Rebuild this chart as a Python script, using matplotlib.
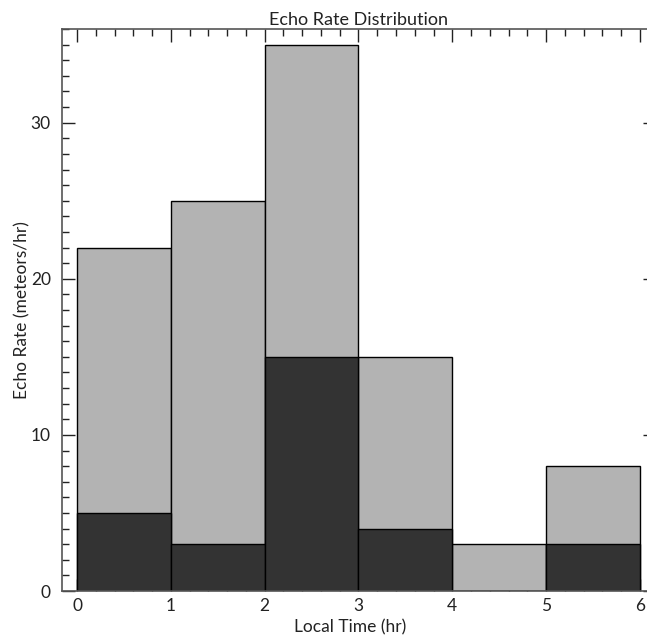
import matplotlib
matplotlib.use("Agg")
import matplotlib.pyplot as plt
from matplotlib.ticker import MultipleLocator

# hourly bins of local time
hour_edges = [0, 1, 2, 3, 4, 5]
total_rate = [22, 25, 35, 15, 3, 8]
sub_rate = [5, 3, 15, 4, 0, 3]

plt.rcParams['font.family'] = ['Lato', 'DejaVu Sans']

fig = plt.figure(figsize=(6.47, 6.35), dpi=100)
ax = fig.add_axes([62 / 647, 44 / 635, 593 / 647, 562 / 635])

ax.bar(hour_edges, total_rate, width=1.0, align='edge',
       color='#b3b3b3', edgecolor='black', linewidth=1.0)
ax.bar(hour_edges, sub_rate, width=1.0, align='edge',
       color='#333333', edgecolor='black', linewidth=1.0)

ax.set_xlim(-0.16, 6.16)
ax.set_ylim(0, 36)
ax.set_axisbelow(True)

ax.xaxis.set_major_locator(MultipleLocator(1))
ax.xaxis.set_minor_locator(MultipleLocator(0.2))
ax.yaxis.set_major_locator(MultipleLocator(10))
ax.yaxis.set_minor_locator(MultipleLocator(1))
ax.tick_params(which='both', direction='in', top=True, right=True,
               color='#222222', labelsize=12.5, labelcolor='#222222')
ax.tick_params(which='major', length=9, width=1)
ax.tick_params(which='minor', length=5, width=1)
ax.tick_params(axis='x', pad=5)
ax.tick_params(axis='y', pad=8)

for sp in ax.spines.values():
    sp.set_color('#555555')
    sp.set_linewidth(1.2)

ax.set_title('Echo Rate Distribution', fontsize=13, pad=3, color='#222222')
ax.set_xlabel('Local Time (hr)', fontsize=12.5, color='#222222')
ax.set_ylabel('Echo Rate (meteors/hr)', fontsize=12.5, color='#222222')
ax.xaxis.set_label_coords((350 - 62) / 593, -28 / 562)
ax.yaxis.set_label_coords(-32 / 593, 0.5)

fig.savefig('out.png', dpi=100)
